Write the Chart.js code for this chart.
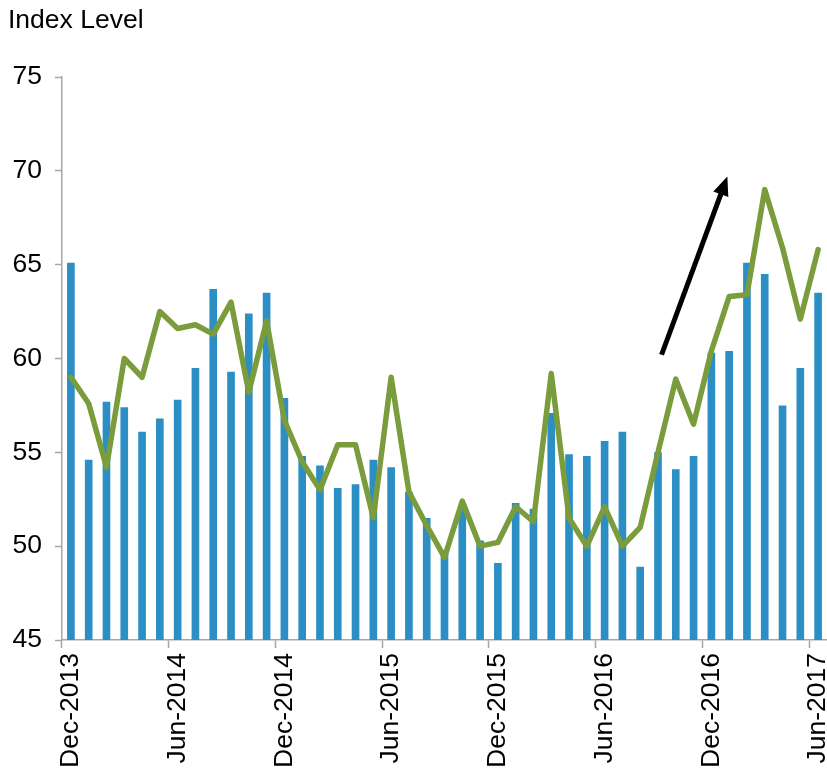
<!DOCTYPE html>
<html>
<head>
<meta charset="utf-8">
<script src="https://cdn.jsdelivr.net/npm/chart.js@4/dist/chart.umd.min.js"></script>
<style>
  html, body { margin: 0; padding: 0; background: #fff; }
  #wrap { position: relative; width: 827px; height: 773px; }
</style>
</head>
<body>
<div id="wrap"><canvas id="chart"></canvas></div>
<script>
// monthly, Dec-2013 .. Jun-2017
const monthNames = ['Jan', 'Feb', 'Mar', 'Apr', 'May', 'Jun', 'Jul', 'Aug', 'Sep', 'Oct', 'Nov', 'Dec'];
const startYear = 2013, startMonth = 11, monthCount = 43;

const barValues = [
    65.1, 54.6, 57.7, 57.4, 56.1, 56.8, 57.8, 59.5, 63.7, 59.3, 62.4, 63.5,
    57.9, 54.8, 54.3, 53.1, 53.3, 54.6, 54.2, 52.9, 51.5, 49.8, 52.2, 50.3,
    49.1, 52.3, 52.0, 57.1, 54.9, 54.8, 55.6, 56.1, 48.9, 55.0, 54.1, 54.8,
    60.3, 60.4, 65.1, 64.5, 57.5, 59.5, 63.5
];

const lineValues = [
    59.0, 57.6, 54.2, 60.0, 59.0, 62.5, 61.6, 61.8, 61.3, 63.0, 58.2, 62.0,
    56.7, 54.5, 53.0, 55.4, 55.4, 51.5, 59.0, 52.9, 51.1, 49.4, 52.4, 50.0,
    50.2, 52.1, 51.3, 59.2, 51.5, 50.0, 52.1, 50.0, 51.0, 55.0, 58.9, 56.5,
    60.4, 63.3, 63.4, 69.0, 65.9, 62.1, 65.8
];

const yTicks = [45, 50, 55, 60, 65, 70, 75];

// arrow annotation, in (category index, value) units
const arrowFrom = [33.2, 60.2];
const arrowTo = [36.9, 69.7];

const labels = [];
for (let i = 0; i < monthCount; i++) {
    const m = (startMonth + i) % 12;
    const y = startYear + Math.floor((startMonth + i) / 12);
    labels.push(monthNames[m] + '-' + y);
}

const FONT = '"Liberation Sans", Arial, sans-serif';
const FONT_SIZE = 26.5;
const axisGrey = '#a6a6a6';

const extras = {
    id: 'extras',
    afterDraw(chart) {
        const ctx = chart.ctx;
        const xs = chart.scales.x, ys = chart.scales.y;
        ctx.save();
        ctx.fillStyle = '#000';
        ctx.font = FONT_SIZE + 'px ' + FONT;
        ctx.textBaseline = 'alphabetic';
        ctx.fillText('Index Level', 8, 28);

        const x0 = xs.getPixelForValue(arrowFrom[0]);
        const y0 = ys.getPixelForValue(arrowFrom[1]);
        const x1 = xs.getPixelForValue(arrowTo[0]);
        const y1 = ys.getPixelForValue(arrowTo[1]);
        const ang = Math.atan2(y1 - y0, x1 - x0);
        const head = 19, half = 8;
        const bx = x1 - head * Math.cos(ang), by = y1 - head * Math.sin(ang);
        ctx.strokeStyle = '#000';
        ctx.lineWidth = 5;
        ctx.beginPath();
        ctx.moveTo(x0, y0);
        ctx.lineTo(bx + 2 * Math.cos(ang), by + 2 * Math.sin(ang));
        ctx.stroke();
        ctx.beginPath();
        ctx.moveTo(x1, y1);
        ctx.lineTo(bx + half * Math.sin(ang), by - half * Math.cos(ang));
        ctx.lineTo(bx - half * Math.sin(ang), by + half * Math.cos(ang));
        ctx.closePath();
        ctx.fill();
        ctx.restore();
    }
};

new Chart(document.getElementById('chart'), {
    type: 'bar',
    data: {
        labels: labels,
        datasets: [
            {
                type: 'line',
                data: lineValues,
                borderColor: '#7a9c3c',
                borderWidth: 5.5,
                pointRadius: 0,
                tension: 0,
                borderJoinStyle: 'round',
                borderCapStyle: 'round',
                order: 0,
            },
            {
                data: barValues,
                backgroundColor: '#2b8ec4',
                categoryPercentage: 1,
                barPercentage: 0.43,
                order: 1,
            },
        ],
    },
    options: {
        responsive: true,
        maintainAspectRatio: false,
        animation: false,
        layout: { padding: { top: 77, right: 0, left: 0, bottom: 0 } },
        plugins: { legend: { display: false }, tooltip: { enabled: false } },
        scales: {
            x: {
                offset: true,
                grid: {
                    offset: true,
                    drawOnChartArea: false,
                    tickLength: 8,
                    tickWidth: 1.5,
                    tickColor: (c) => (c.index % 6 === 0 ? axisGrey : 'rgba(0,0,0,0)'),
                },
                border: { color: axisGrey, width: 1.5 },
                ticks: {
                    autoSkip: false,
                    maxRotation: 90,
                    minRotation: 90,
                    padding: 5,
                    color: '#000',
                    font: { family: FONT, size: FONT_SIZE },
                    callback: (v, i) => (i % 6 === 0 ? labels[i] : ''),
                },
                afterFit(s) {
                    s.height = 133;
                    s.paddingLeft = 0;
                    s.paddingRight = 0;
                },
            },
            y: {
                min: 45,
                max: 75,
                afterBuildTicks(s) {
                    s.ticks = yTicks.map((v) => ({ value: v }));
                },
                grid: {
                    drawOnChartArea: false,
                    tickLength: 7,
                    tickWidth: 1.5,
                    tickColor: axisGrey,
                },
                border: { color: axisGrey, width: 1.5 },
                ticks: {
                    padding: 13,
                    color: '#000',
                    font: { family: FONT, size: FONT_SIZE },
                },
                afterFit(s) {
                    s.width = 62;
                },
            },
        },
    },
    plugins: [extras],
});
</script>
</body>
</html>
